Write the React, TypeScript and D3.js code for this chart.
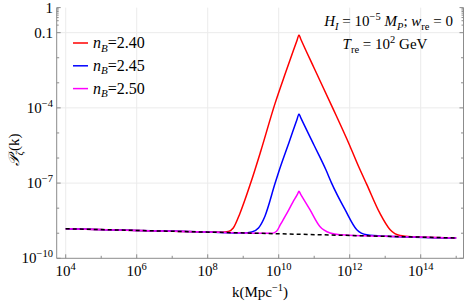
import React from "react";
import * as d3 from "d3";

// curves, as log10(k) and log10(P)
const redLogK = [4, 6, 8, 8.4, 8.58, 8.72, 8.91, 9.21, 9.5, 9.9, 10.2, 10.52, 10.57, 10.62, 11.0, 11.51, 12.0, 12.27, 12.48, 12.85, 13.14, 13.42, 13.8, 15];
const redLogP = [-8.82, -8.89, -8.95, -8.96, -8.93, -8.79, -8.2, -7.0, -5.7, -3.81, -2.57, -1.29, -1.09, -1.25, -2.42, -3.97, -5.5, -6.4, -7.05, -8.2, -8.86, -9.09, -9.14, -9.19];

const blueLogK = [4, 6, 8, 9.0, 9.24, 9.43, 9.61, 9.9, 10.02, 10.3, 10.52, 10.57, 10.62, 11.0, 11.33, 11.49, 11.87, 12.2, 12.48, 13, 15];
const blueLogP = [-8.82, -8.89, -8.95, -8.99, -8.95, -8.79, -8.33, -7.0, -6.47, -5.34, -4.44, -4.24, -4.39, -5.5, -6.47, -7.0, -8.06, -8.86, -9.06, -9.12, -9.19];

const magLogK = [4, 6, 8, 9.5, 9.8, 9.94, 10.05, 10.2, 10.4, 10.53, 10.57, 10.62, 10.88, 11.16, 11.45, 11.73, 13, 15];
const magLogP = [-8.82, -8.89, -8.95, -9.0, -9.0, -8.92, -8.65, -8.28, -7.76, -7.44, -7.33, -7.45, -8.06, -8.73, -8.99, -9.06, -9.12, -9.19];

const bgLogK = [4, 15];
const bgLogP = [-8.82, -9.19];

const legendLabels = ["2.40", "2.45", "2.50"];
const colors = ["#ff0000", "#0000ff", "#ff00ff"];

const xMajor = [4, 6, 8, 10, 12, 14];
const xMinor = [5, 7, 9, 11, 13, 15];
const yMajor = [0, -1, -4, -7, -10];
const yMinor = [-2, -3, -5, -6, -8, -9];
const yTopSub = [0.2, 0.3, 0.4, 0.5, 0.6, 0.7, 0.8, 0.9];

const W = 468;
const H = 304;
const L = 56.7, R = 463.5, T = 7.6, B = 258.3;

const x = d3.scaleLog().domain([10 ** 3.746, 10 ** 15.206]).range([L, R]);
const y = d3.scaleLog().domain([1e-10, 1]).range([B, T]);

const line = d3
  .line<[number, number]>()
  .x((d) => x(10 ** d[0]))
  .y((d) => y(10 ** d[1]))
  .curve(d3.curveMonotoneX);

const zip = (a: number[], b: number[]) => a.map((v, i) => [v, b[i]] as [number, number]);

const series = [zip(redLogK, redLogP), zip(blueLogK, blueLogP), zip(magLogK, magLogP)];

const serif = "'Liberation Serif', 'Times New Roman', serif";
const axisColor = "#8c8c8c";
const gridColor = "#ebebeb";

const App = () => {
  return (
    <svg
      width={W}
      height={H}
      style={{ position: "absolute", left: 0, top: 0, background: "#fff" }}
      fontFamily={serif}
    >
      {/* grid */}
      {xMajor.map((e) => (
        <line key={"gx" + e} x1={x(10 ** e)} x2={x(10 ** e)} y1={T} y2={B} stroke={gridColor} />
      ))}
      {yMajor.slice(1, 4).map((e) => (
        <line key={"gy" + e} x1={L} x2={R} y1={y(10 ** e)} y2={y(10 ** e)} stroke={gridColor} />
      ))}

      {/* curves */}
      {series.map((s, i) => (
        <path key={i} d={line(s) || ""} fill="none" stroke={colors[i]} strokeWidth={1.5} />
      ))}
      <path d={line(zip(bgLogK, bgLogP)) || ""} fill="none" stroke="#000" strokeWidth={1.5} strokeDasharray="4,3" />

      {/* frame */}
      <line x1={L} x2={L} y1={T} y2={B} stroke={axisColor} />
      <line x1={L} x2={R} y1={B} y2={B} stroke={axisColor} />
      <line x1={R} x2={R} y1={T} y2={B} stroke={axisColor} />

      {/* x ticks */}
      {xMajor.map((e) => (
        <g key={"xt" + e}>
          <line x1={x(10 ** e)} x2={x(10 ** e)} y1={B} y2={B - 4} stroke={axisColor} />
          <text x={x(10 ** e)} y={276} fontSize={15} textAnchor="middle">
            10<tspan dy={-6} fontSize={10.5}>{e}</tspan>
          </text>
        </g>
      ))}
      {xMinor.map((e) => (
        <line key={"xm" + e} x1={x(10 ** e)} x2={x(10 ** e)} y1={B} y2={B - 2.5} stroke={axisColor} />
      ))}

      {/* y ticks */}
      {yMajor.map((e) => (
        <g key={"yt" + e}>
          <line x1={L} x2={L + 4} y1={y(10 ** e)} y2={y(10 ** e)} stroke={axisColor} />
          <line x1={R} x2={R - 4} y1={y(10 ** e)} y2={y(10 ** e)} stroke={axisColor} />
          <text x={53} y={y(10 ** e) + 5} fontSize={15} textAnchor="end">
            {e === 0 ? "1" : e === -1 ? "0.1" : (
              <>
                10<tspan dy={-6} fontSize={10.5}>{"\u2212" + -e}</tspan>
              </>
            )}
          </text>
        </g>
      ))}
      {yMinor.map((e) => (
        <g key={"ym" + e}>
          <line x1={L} x2={L + 2.5} y1={y(10 ** e)} y2={y(10 ** e)} stroke={axisColor} />
          <line x1={R} x2={R - 2.5} y1={y(10 ** e)} y2={y(10 ** e)} stroke={axisColor} />
        </g>
      ))}
      {yTopSub.map((v) => (
        <g key={"ys" + v}>
          <line x1={L} x2={L + 2} y1={y(v)} y2={y(v)} stroke={axisColor} />
          <line x1={R} x2={R - 2} y1={y(v)} y2={y(v)} stroke={axisColor} />
        </g>
      ))}

      {/* axis titles */}
      <text x={260} y={297} fontSize={15} textAnchor="middle">
        k(Mpc<tspan dy={-6} fontSize={10.5}>{"\u22121"}</tspan>
        <tspan dy={6}>)</tspan>
      </text>
      <text transform="translate(19,150) rotate(-90)" fontSize={15} textAnchor="middle">
        <tspan fontStyle="italic">{"\ud835\udcab"}</tspan>
        <tspan dy={4} fontSize={10.5} fontStyle="italic">ζ</tspan>
        <tspan dy={-4}>(k)</tspan>
      </text>

      {/* legend */}
      {legendLabels.map((lab, i) => {
        const ly = 43 + i * 22.8;
        return (
          <g key={lab}>
            <line x1={73} x2={88} y1={ly} y2={ly} stroke={colors[i]} strokeWidth={1.5} />
            <text x={93} y={ly + 5} fontSize={16}>
              <tspan fontStyle="italic">n</tspan>
              <tspan dy={3.5} fontSize={11} fontStyle="italic">B</tspan>
              <tspan dy={-3.5}>={lab}</tspan>
            </text>
          </g>
        );
      })}

      {/* annotation */}
      <text x={453} y={26} fontSize={15} textAnchor="end">
        <tspan fontStyle="italic">H</tspan>
        <tspan dy={3.5} fontSize={10.5} fontStyle="italic">I</tspan>
        <tspan dy={-3.5}> = 10</tspan>
        <tspan dy={-6} fontSize={10.5}>{"\u22125"}</tspan>
        <tspan dy={6} fontStyle="italic"> M</tspan>
        <tspan dy={3.5} fontSize={10.5} fontStyle="italic">P</tspan>
        <tspan dy={-3.5}>; </tspan>
        <tspan fontStyle="italic">w</tspan>
        <tspan dy={3.5} fontSize={10.5}>re</tspan>
        <tspan dy={-3.5}> = 0</tspan>
      </text>
      <text x={385} y={49} fontSize={15} textAnchor="middle">
        <tspan fontStyle="italic">T</tspan>
        <tspan dy={3.5} fontSize={10.5}>re</tspan>
        <tspan dy={-3.5}> = 10</tspan>
        <tspan dy={-6} fontSize={10.5}>2</tspan>
        <tspan dy={6}> GeV</tspan>
      </text>
    </svg>
  );
};

export default App;
